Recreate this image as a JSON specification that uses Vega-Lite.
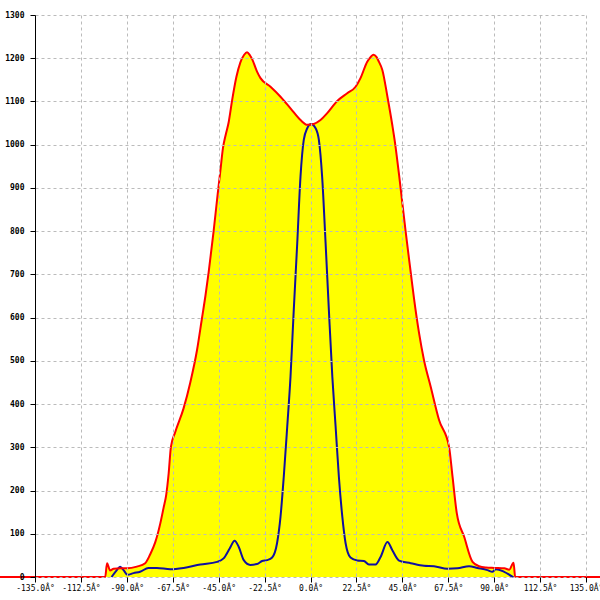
{
  "$schema": "https://vega.github.io/schema/vega-lite/v6.json",
  "width": 551,
  "height": 562,
  "autosize": "none",
  "padding": {"left": 35, "right": 14, "top": 15, "bottom": 23},
  "background": "white",
  "config": {"view": {"stroke": null}},
  "datasets": {
    "outer": [
      {"x": -152.2, "y": 0}, {"x": -100.6, "y": 0}, {"x": -99.7, "y": 32}, {"x": -98.2, "y": 15},
      {"x": -96.5, "y": 19}, {"x": -93, "y": 20}, {"x": -90, "y": 20}, {"x": -85.1, "y": 24},
      {"x": -81, "y": 32}, {"x": -78.6, "y": 52}, {"x": -76.1, "y": 80}, {"x": -73.6, "y": 124},
      {"x": -72, "y": 160}, {"x": -70.7, "y": 190}, {"x": -69.5, "y": 240}, {"x": -68.4, "y": 301},
      {"x": -66.3, "y": 335}, {"x": -62.2, "y": 390}, {"x": -58.9, "y": 450}, {"x": -55.6, "y": 525},
      {"x": -53.2, "y": 598}, {"x": -51.5, "y": 650}, {"x": -49.9, "y": 705}, {"x": -47.5, "y": 799},
      {"x": -45.5, "y": 885}, {"x": -44.2, "y": 938}, {"x": -42.9, "y": 992}, {"x": -41.6, "y": 1022},
      {"x": -40.1, "y": 1052}, {"x": -38.4, "y": 1103}, {"x": -36.3, "y": 1157}, {"x": -34.4, "y": 1190},
      {"x": -32.5, "y": 1208}, {"x": -31.1, "y": 1214}, {"x": -29.7, "y": 1207}, {"x": -28.6, "y": 1198},
      {"x": -26.2, "y": 1169}, {"x": -24.5, "y": 1154}, {"x": -19.6, "y": 1134}, {"x": -14.7, "y": 1111},
      {"x": -9.8, "y": 1084}, {"x": -4.9, "y": 1057}, {"x": -1.6, "y": 1046}, {"x": 1.6, "y": 1048},
      {"x": 4.9, "y": 1057}, {"x": 8.2, "y": 1073}, {"x": 13.1, "y": 1101}, {"x": 18, "y": 1119},
      {"x": 22.1, "y": 1134}, {"x": 24.5, "y": 1154}, {"x": 27.8, "y": 1192}, {"x": 29.5, "y": 1203},
      {"x": 30.9, "y": 1208}, {"x": 32.3, "y": 1203}, {"x": 33.5, "y": 1192}, {"x": 35.2, "y": 1173},
      {"x": 37.7, "y": 1111}, {"x": 40.1, "y": 1045}, {"x": 41.4, "y": 1005}, {"x": 43.4, "y": 930},
      {"x": 45, "y": 865}, {"x": 46.6, "y": 800}, {"x": 49.1, "y": 705}, {"x": 50.7, "y": 645},
      {"x": 53.2, "y": 564}, {"x": 55.6, "y": 502}, {"x": 58.9, "y": 440}, {"x": 63, "y": 363},
      {"x": 67.9, "y": 301}, {"x": 69.6, "y": 232}, {"x": 71.7, "y": 147}, {"x": 75.3, "y": 93},
      {"x": 79.4, "y": 35}, {"x": 82.6, "y": 25}, {"x": 86, "y": 22}, {"x": 90, "y": 21},
      {"x": 95, "y": 20}, {"x": 97.4, "y": 17}, {"x": 99.5, "y": 33}, {"x": 100.3, "y": 0},
      {"x": 141.9, "y": 0}
    ],
    "inner": [
      {"x": -97.5, "y": 0}, {"x": -94.9, "y": 16}, {"x": -93.3, "y": 24}, {"x": -91.6, "y": 16},
      {"x": -89.7, "y": 5}, {"x": -86.7, "y": 9}, {"x": -83.5, "y": 12}, {"x": -79.4, "y": 21},
      {"x": -75.3, "y": 21}, {"x": -68.7, "y": 18}, {"x": -62.2, "y": 21}, {"x": -54, "y": 29},
      {"x": -45.8, "y": 35}, {"x": -42.6, "y": 43}, {"x": -39.6, "y": 66}, {"x": -37.2, "y": 84},
      {"x": -35.2, "y": 70}, {"x": -32.7, "y": 39}, {"x": -29.5, "y": 28}, {"x": -26.2, "y": 30},
      {"x": -23.7, "y": 37}, {"x": -21.3, "y": 39}, {"x": -18.8, "y": 45}, {"x": -16.4, "y": 78},
      {"x": -14.7, "y": 139}, {"x": -13.1, "y": 232}, {"x": -11.4, "y": 348}, {"x": -9.8, "y": 463},
      {"x": -8.2, "y": 618}, {"x": -6.5, "y": 772}, {"x": -4.9, "y": 926}, {"x": -3.3, "y": 1011},
      {"x": -1.6, "y": 1038}, {"x": 0.3, "y": 1048}, {"x": 2.5, "y": 1038}, {"x": 4.1, "y": 1011},
      {"x": 5.7, "y": 926}, {"x": 7.4, "y": 772}, {"x": 9, "y": 618}, {"x": 10.7, "y": 463},
      {"x": 12.3, "y": 348}, {"x": 13.9, "y": 232}, {"x": 15.6, "y": 139}, {"x": 17.2, "y": 78},
      {"x": 19.6, "y": 45}, {"x": 22.9, "y": 38}, {"x": 26.2, "y": 37}, {"x": 28.6, "y": 29},
      {"x": 31.9, "y": 29}, {"x": 34.4, "y": 47}, {"x": 37.7, "y": 81}, {"x": 40.1, "y": 62},
      {"x": 43.4, "y": 38}, {"x": 49.1, "y": 32}, {"x": 55.6, "y": 26}, {"x": 60.5, "y": 25},
      {"x": 67.1, "y": 19}, {"x": 72, "y": 20}, {"x": 77.7, "y": 25}, {"x": 81.8, "y": 21},
      {"x": 86.7, "y": 16}, {"x": 89.1, "y": 12}, {"x": 90.8, "y": 18}, {"x": 94.9, "y": 12},
      {"x": 99, "y": 1}, {"x": 99.5, "y": 0}
    ]
  },
  "encoding": {
    "x": {
      "field": "x",
      "type": "quantitative",
      "scale": {"domain": [-135, 135], "nice": false, "zero": false},
      "axis": {
        "title": null,
        "values": [-135, -112.5, -90, -67.5, -45, -22.5, 0, 22.5, 45, 67.5, 90, 112.5, 135],
        "labelExpr": "(datum.value < 0 ? '-' : '') + format(abs(datum.value), '.1f') + 'Â°'",
        "domain": false,
        "tickSize": 5,
        "tickColor": "black",
        "labelFont": "DejaVu Sans Mono",
        "labelFontSize": 8,
        "labelColor": "black",
        "labelPadding": 2,
        "labelFlush": false,
        "labelOverlap": false,
        "grid": true,
        "gridDash": [3, 3],
        "gridColor": "#bbbbbb",
        "zindex": 1
      }
    },
    "y": {
      "field": "y",
      "type": "quantitative",
      "scale": {"domain": [0, 1300], "nice": false},
      "axis": {
        "title": null,
        "format": "d",
        "values": [0, 100, 200, 300, 400, 500, 600, 700, 800, 900, 1000, 1100, 1200, 1300],
        "domainColor": "black",
        "tickSize": 5,
        "tickColor": "black",
        "labelFont": "DejaVu Sans Mono",
        "labelFontSize": 8,
        "labelFontWeight": "bold",
        "labelColor": "black",
        "labelPadding": 6,
        "labelFlush": false,
        "labelOverlap": false,
        "grid": true,
        "gridDash": [3, 3],
        "gridColor": "#bbbbbb",
        "zindex": 1
      }
    }
  },
  "layer": [
    {
      "data": {"name": "outer"},
      "mark": {"type": "area", "color": "#ffff00", "interpolate": "monotone", "clip": false}
    },
    {
      "data": {"name": "inner"},
      "mark": {"type": "line", "color": "#1010a0", "strokeWidth": 2, "interpolate": "monotone", "clip": false}
    },
    {
      "data": {"name": "outer"},
      "mark": {"type": "line", "color": "#ff0000", "strokeWidth": 2, "interpolate": "monotone", "clip": false}
    }
  ]
}
